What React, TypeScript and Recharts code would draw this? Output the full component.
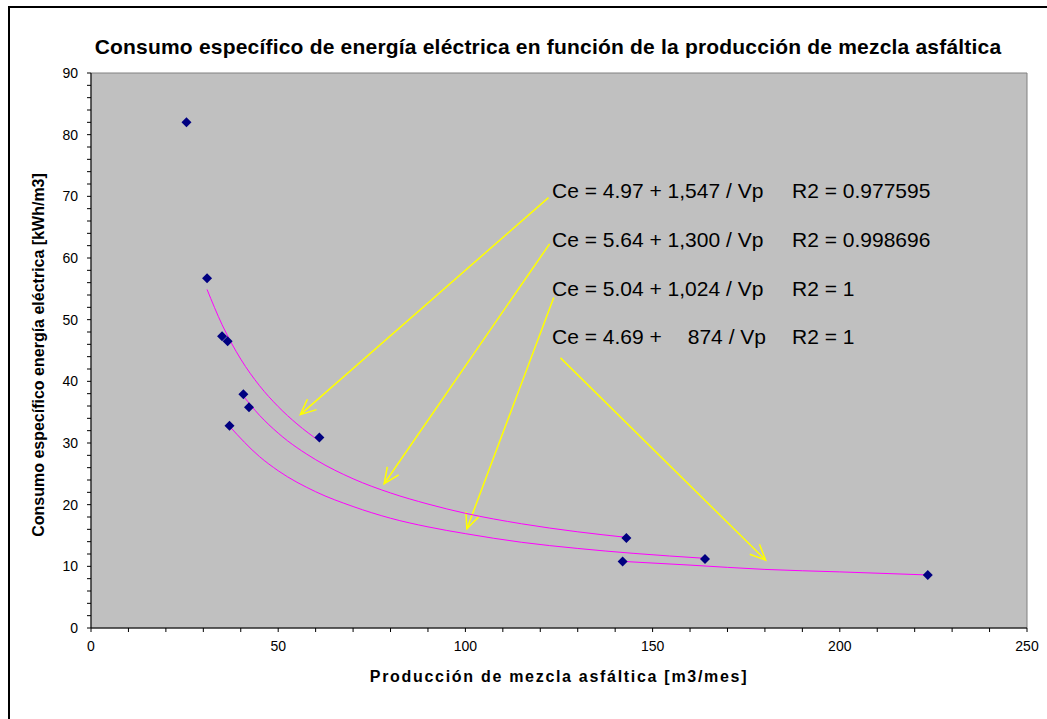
import React from 'react';
import { ScatterChart, Scatter, XAxis, YAxis, ReferenceArea, ReferenceLine } from 'recharts';

// measured points (m3/mes, kWh/m3)
const produccion = [25.5, 31, 35, 36.5, 40.7, 42.2, 37, 61, 143, 164, 142, 223.5];
const consumo = [82, 56.7, 47.3, 46.5, 37.9, 35.8, 32.8, 30.9, 14.6, 11.2, 10.8, 8.6];

// trend curves
const curve1X = [31, 35, 40, 45, 50, 55, 61];
const curve1Y = [54.9, 49.2, 43.6, 39.3, 35.9, 33.1, 30.3];
const curve2X = [40.7, 45, 50, 60, 70, 80, 90, 100, 115, 130, 143];
const curve2Y = [37.6, 34.5, 31.6, 27.3, 24.2, 21.9, 20.1, 18.6, 16.9, 15.6, 14.7];
const curve3X = [37, 45, 50, 60, 70, 80, 90, 100, 115, 130, 145, 164];
const curve3Y = [32.7, 27.8, 25.5, 22.1, 19.7, 17.8, 16.4, 15.3, 13.9, 12.9, 12.1, 11.3];
const curve4X = [142, 160, 180, 200, 223.5];
const curve4Y = [10.8, 10.2, 9.5, 9.1, 8.6];

// arrows: [fromX, fromY, toX, toY]
const arrows = [
  [122.2, 69.8, 55.9, 34.6],
  [122.5, 62.3, 78.3, 23.4],
  [123.6, 53.6, 100.4, 16.1],
  [125.4, 43.8, 180.2, 11.0],
];

const xTicks = Array.from({ length: 26 }, (_, i) => i * 10);
const yTicks = Array.from({ length: 46 }, (_, i) => i * 2);

const FONT = '"Liberation Sans", Arial, sans-serif';

const toPoints = (xs: number[], ys: number[]) => xs.map((x, i) => ({ x, y: ys[i] }));

const Diamond = (props: any) => {
  const { cx, cy } = props;
  if (cx == null || cy == null) return null;
  return <polygon points={`${cx},${cy - 5} ${cx + 5},${cy} ${cx},${cy + 5} ${cx - 5},${cy}`} fill="#000080" />;
};

const NoDot = () => null;

const Arrow = (props: any) => {
  const { x1, y1, x2, y2 } = props;
  if ([x1, y1, x2, y2].some((v) => v == null || isNaN(v))) return null;
  const ang = Math.atan2(y2 - y1, x2 - x1);
  const len = 17;
  const spread = 0.42;
  const ax = x2 - len * Math.cos(ang - spread);
  const ay = y2 - len * Math.sin(ang - spread);
  const bx = x2 - len * Math.cos(ang + spread);
  const by = y2 - len * Math.sin(ang + spread);
  return (
    <g stroke="#FFFF00" strokeWidth={1.5} fill="none">
      <line x1={x1} y1={y1} x2={x2} y2={y2} />
      <polyline points={`${ax},${ay} ${x2},${y2} ${bx},${by}`} />
    </g>
  );
};

const equations = [
  { y: 198, eq: 'Ce = 4.97 + 1,547 / Vp', r2: 'R2 = 0.977595' },
  { y: 247, eq: 'Ce = 5.64 + 1,300 / Vp', r2: 'R2 = 0.998696' },
  { y: 296, eq: 'Ce = 5.04 + 1,024 / Vp', r2: 'R2 = 1' },
  { y: 344, eq: 'Ce = 4.69 +', eqRight: '874 / Vp', r2: 'R2 = 1' },
];

export default function App() {
  return (
    <div style={{ position: 'absolute', left: 0, top: 0, width: 1047, height: 719, overflow: 'hidden', background: '#fff', fontFamily: FONT }}>
      <div style={{ position: 'absolute', left: 8, top: 6, width: 1200, height: 900, borderTop: '2px solid #000', borderLeft: '2px solid #000' }} />
      <div style={{ position: 'absolute', left: 0, top: 0 }}>
        <ScatterChart width={1047} height={719} margin={{ top: 73, right: 20, bottom: 61, left: 41 }}>
          <XAxis
            type="number"
            dataKey="x"
            domain={[0, 250]}
            ticks={xTicks}
            interval={0}
            height={30}
            tickSize={4}
            tickMargin={9}
            stroke="#000"
            tick={{ fill: '#000', fontSize: 14, fontFamily: FONT }}
            tickFormatter={(v: number) => (v % 50 === 0 ? String(v) : '')}
          />
          <YAxis
            type="number"
            dataKey="y"
            domain={[0, 90]}
            ticks={yTicks}
            interval={0}
            width={50}
            tickSize={4}
            tickMargin={9}
            stroke="#000"
            tick={{ fill: '#000', fontSize: 14, fontFamily: FONT }}
            tickFormatter={(v: number) => (v % 10 === 0 ? String(v) : '')}
          />
          <ReferenceArea x1={0} x2={250} y1={0} y2={90} fill="#C0C0C0" fillOpacity={1} stroke="#808080" strokeWidth={1} />
          <Scatter data={toPoints(curve1X, curve1Y)} line={{ stroke: '#FF00FF', strokeWidth: 1 }} lineJointType="monotoneX" shape={NoDot} isAnimationActive={false} />
          <Scatter data={toPoints(curve2X, curve2Y)} line={{ stroke: '#FF00FF', strokeWidth: 1 }} lineJointType="monotoneX" shape={NoDot} isAnimationActive={false} />
          <Scatter data={toPoints(curve3X, curve3Y)} line={{ stroke: '#FF00FF', strokeWidth: 1 }} lineJointType="monotoneX" shape={NoDot} isAnimationActive={false} />
          <Scatter data={toPoints(curve4X, curve4Y)} line={{ stroke: '#FF00FF', strokeWidth: 1 }} lineJointType="monotoneX" shape={NoDot} isAnimationActive={false} />
          {arrows.map(([fx, fy, tx, ty], i) => (
            <ReferenceLine key={i} segment={[{ x: fx, y: fy }, { x: tx, y: ty }]} shape={Arrow} />
          ))}
          <Scatter data={toPoints(produccion, consumo)} shape={Diamond} isAnimationActive={false} />
        </ScatterChart>
      </div>
      <svg width={1047} height={719} style={{ position: 'absolute', left: 0, top: 0, pointerEvents: 'none' }}>
        <text x={548} y={54} textAnchor="middle" fontSize={21} fontWeight="bold" fill="#000" fontFamily={FONT} letterSpacing={0.2}>
          Consumo específico de energía eléctrica en función de la producción de mezcla asfáltica
        </text>
        <text x={559} y={682} textAnchor="middle" fontSize={16} fontWeight="bold" fill="#000" fontFamily={FONT} letterSpacing={1.7}>
          Producción de mezcla asfáltica [m3/mes]
        </text>
        <text x={44} y={355} textAnchor="middle" fontSize={16} fontWeight="bold" fill="#000" fontFamily={FONT} transform="rotate(-90 44 355)">
          Consumo específico energía eléctrica [kWh/m3]
        </text>
        {equations.map((e, i) => (
          <g key={i} fontSize={21} fill="#000" fontFamily={FONT}>
            <text x={552} y={e.y}>{e.eq}</text>
            {e.eqRight && <text x={766} y={e.y} textAnchor="end">{e.eqRight}</text>}
            <text x={792} y={e.y}>{e.r2}</text>
          </g>
        ))}
      </svg>
    </div>
  );
}
